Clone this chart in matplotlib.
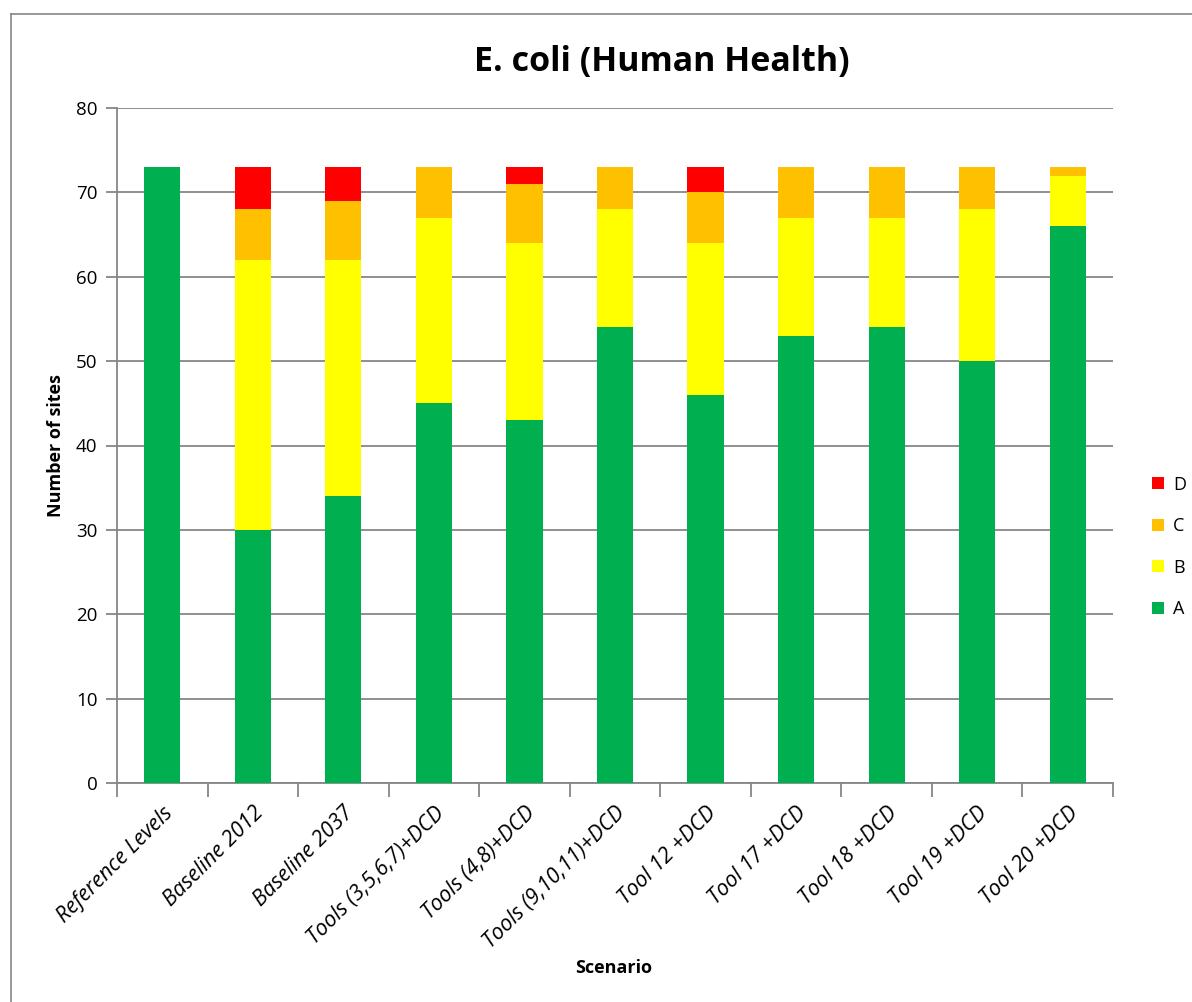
import matplotlib
matplotlib.use("Agg")
import matplotlib.pyplot as plt
from matplotlib.lines import Line2D
from matplotlib.patches import Patch
import numpy as np

plt.rcParams['font.family'] = ['Open Sans', 'DejaVu Sans']

scenarios = ["Reference Levels", "Baseline 2012", "Baseline 2037",
             "Tools (3,5,6,7)+DCD", "Tools (4,8)+DCD", "Tools (9,10,11)+DCD",
             "Tool 12 +DCD", "Tool 17 +DCD", "Tool 18 +DCD", "Tool 19 +DCD",
             "Tool 20 +DCD"]
class_a = [73, 30, 34, 45, 43, 54, 46, 53, 54, 50, 66]
class_b = [0, 32, 28, 22, 21, 14, 18, 14, 13, 18, 6]
class_c = [0, 6, 7, 6, 7, 5, 6, 6, 6, 5, 1]
class_d = [0, 5, 4, 0, 2, 0, 3, 0, 0, 0, 0]
classes = ["A", "B", "C", "D"]
colors = ["#00B050", "#FFFF00", "#FFC000", "#FF0000"]
yticks = [0, 10, 20, 30, 40, 50, 60, 70, 80]

W, H = 1192, 1002
fig = plt.figure(figsize=(W / 100, H / 100), dpi=100)
ax = fig.add_axes([117 / W, 1 - 783 / H, (1113 - 117) / W, (783 - 108) / H])

x = np.arange(len(scenarios))
bottom = np.zeros(len(scenarios))
handles = []
for name, vals, col in zip(classes, [class_a, class_b, class_c, class_d], colors):
    vals = np.array(vals, dtype=float)
    ax.bar(x, vals, bottom=bottom, width=0.4, color=col, zorder=3, linewidth=0)
    bottom += vals
    handles.append(Patch(facecolor=col, edgecolor='none', label=name))

ax.set_xlim(-0.5, len(scenarios) - 0.5)
ax.set_ylim(0, 80)
ax.set_yticks(yticks)
ax.yaxis.grid(True, color="#868686", linewidth=1.3, zorder=0)
ax.set_axisbelow(True)
for s in ["top", "right"]:
    ax.spines[s].set_visible(False)
for s in ["left", "bottom"]:
    ax.spines[s].set_color("#868686")
    ax.spines[s].set_linewidth(1.3)

ax.tick_params(axis='y', direction='out', length=8, width=1.3, color="#868686",
               labelsize=13.5, pad=6)
ax.set_xticks(x)
ax.set_xticklabels(scenarios, rotation=45, ha='right', rotation_mode='anchor',
                   fontsize=15.5, style='italic')
ax.tick_params(axis='x', length=0, pad=14)
ax.set_xticks(np.arange(-0.5, len(scenarios) + 0.5), minor=True)
ax.tick_params(axis='x', which='minor', direction='out', length=10, width=1.3,
               color="#868686")

ax.set_ylabel("Number of sites", fontsize=13, fontweight='bold', labelpad=8)
fig.text(614 / W, 1 - 968 / H, "Scenario", fontsize=13, fontweight='bold',
         ha='center', va='center')
fig.text(662 / W, 1 - 62 / H, "E. coli (Human Health)", fontsize=24.5,
         fontweight='bold', ha='center', va='center')

leg = fig.legend(handles=handles[::-1], loc='center left',
                 bbox_to_anchor=(1136 / W, 1 - 547 / H), frameon=False,
                 fontsize=13, handlelength=0.65, handleheight=0.65,
                 labelspacing=1.3, handletextpad=0.5)

# outer chart frame (left and top edges)
fig.add_artist(Line2D([10.5 / W, 10.5 / W], [0, 1 - 14 / H], color="#868686",
                      linewidth=1.2, transform=fig.transFigure))
fig.add_artist(Line2D([10.5 / W, 1], [1 - 14 / H, 1 - 14 / H], color="#868686",
                      linewidth=1.2, transform=fig.transFigure))

fig.savefig("out.png", dpi=100)
